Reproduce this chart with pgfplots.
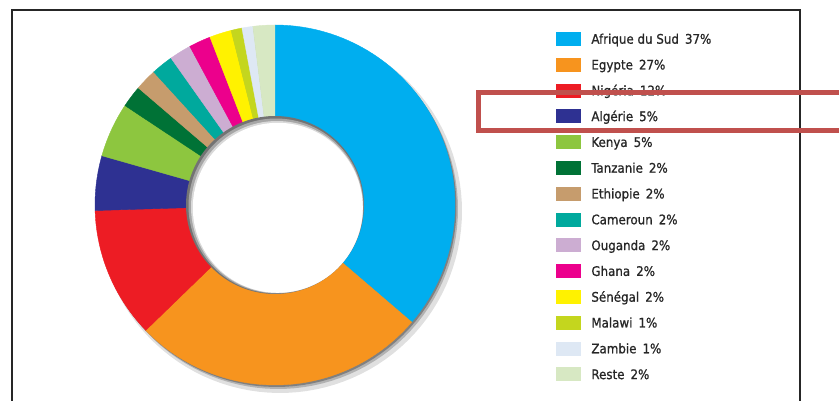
\documentclass[border=0pt]{standalone}
\usepackage{pgfplots}
\pgfplotsset{compat=1.18}
\usepackage{fontspec}
\setmainfont{DejaVu Sans Condensed}
\newfontfamily\legfont{DejaVu Sans Condensed}[FakeBold=0.9]
\definecolor{cZA}{RGB}{0,174,239}
\definecolor{cEG}{RGB}{247,148,30}
\definecolor{cNG}{RGB}{237,28,36}
\definecolor{cDZ}{RGB}{46,49,146}
\definecolor{cKE}{RGB}{141,198,63}
\definecolor{cTZ}{RGB}{0,114,54}
\definecolor{cET}{RGB}{198,156,109}
\definecolor{cCM}{RGB}{0,169,157}
\definecolor{cUG}{RGB}{204,173,210}
\definecolor{cGH}{RGB}{236,0,140}
\definecolor{cSN}{RGB}{255,242,0}
\definecolor{cMW}{RGB}{196,214,30}
\definecolor{cZM}{RGB}{222,232,244}
\definecolor{cRE}{RGB}{215,232,195}
\definecolor{cRed}{RGB}{192,80,77}
\newcommand{\gap}{\hskip 6pt}
\begin{document}
\begin{tikzpicture}
\begin{axis}[
  width=839pt, height=401pt, scale only axis,
  xmin=0, xmax=839, ymin=0, ymax=401,
  hide axis, set layers,
  legend cell align=left,
  legend image code/.code={\fill[#1] (0pt,-6.5pt) rectangle (24pt,6.5pt);},
  legend style={at={(axis cs:556,369)}, anchor=north west, draw=none, fill=none,
    inner sep=0pt, outer sep=0pt, row sep=12.4pt, column sep=11pt,
    font=\legfont\fontsize{13.2}{15}\selectfont, text=black!85,
    nodes={inner sep=0pt, text height=11.5pt, text depth=1.5pt}},
]
% outer drop shadow
\addplot[forget plot, fill=black!12, draw=none, domain=0:360, samples=120] ({280+182*cos(x)},{190+182*sin(x)});
\addplot[forget plot, fill=black!30, draw=none, domain=0:360, samples=120] ({278+180*cos(x)},{192+180*sin(x)});
\addplot[forget plot, fill=black!50, draw=none, domain=0:360, samples=120] ({276.5+180*cos(x)},{194+180*sin(x)});
% slices (cumulative values, total 102)
\addplot[fill=cZA, draw=cZA, line width=0.4pt, domain=0:37, samples=60] ({275+180*sin(x*360/102)},{196+180*cos(x*360/102)}) -- (275,196) -- cycle;
\addlegendentry{Afrique du Sud\gap 37\%}
\addplot[fill=cEG, draw=cEG, line width=0.4pt, domain=37:64, samples=50] ({275+180*sin(x*360/102)},{196+180*cos(x*360/102)}) -- (275,196) -- cycle;
\addlegendentry{Egypte\gap 27\%}
\addplot[fill=cNG, draw=cNG, line width=0.4pt, domain=64:76, samples=30] ({275+180*sin(x*360/102)},{196+180*cos(x*360/102)}) -- (275,196) -- cycle;
\addlegendentry{Nigéria\gap 12\%}
\addplot[fill=cDZ, draw=cDZ, line width=0.4pt, domain=76:81, samples=15] ({275+180*sin(x*360/102)},{196+180*cos(x*360/102)}) -- (275,196) -- cycle;
\addlegendentry{Algérie\gap 5\%}
\addplot[fill=cKE, draw=cKE, line width=0.4pt, domain=81:86, samples=15] ({275+180*sin(x*360/102)},{196+180*cos(x*360/102)}) -- (275,196) -- cycle;
\addlegendentry{Kenya\gap 5\%}
\addplot[fill=cTZ, draw=cTZ, line width=0.4pt, domain=86:88, samples=8] ({275+180*sin(x*360/102)},{196+180*cos(x*360/102)}) -- (275,196) -- cycle;
\addlegendentry{Tanzanie\gap 2\%}
\addplot[fill=cET, draw=cET, line width=0.4pt, domain=88:90, samples=8] ({275+180*sin(x*360/102)},{196+180*cos(x*360/102)}) -- (275,196) -- cycle;
\addlegendentry{Ethiopie\gap 2\%}
\addplot[fill=cCM, draw=cCM, line width=0.4pt, domain=90:92, samples=8] ({275+180*sin(x*360/102)},{196+180*cos(x*360/102)}) -- (275,196) -- cycle;
\addlegendentry{Cameroun\gap 2\%}
\addplot[fill=cUG, draw=cUG, line width=0.4pt, domain=92:94, samples=8] ({275+180*sin(x*360/102)},{196+180*cos(x*360/102)}) -- (275,196) -- cycle;
\addlegendentry{Ouganda\gap 2\%}
\addplot[fill=cGH, draw=cGH, line width=0.4pt, domain=94:96, samples=8] ({275+180*sin(x*360/102)},{196+180*cos(x*360/102)}) -- (275,196) -- cycle;
\addlegendentry{Ghana\gap 2\%}
\addplot[fill=cSN, draw=cSN, line width=0.4pt, domain=96:98, samples=8] ({275+180*sin(x*360/102)},{196+180*cos(x*360/102)}) -- (275,196) -- cycle;
\addlegendentry{Sénégal\gap 2\%}
\addplot[fill=cMW, draw=cMW, line width=0.4pt, domain=98:99, samples=6] ({275+180*sin(x*360/102)},{196+180*cos(x*360/102)}) -- (275,196) -- cycle;
\addlegendentry{Malawi\gap 1\%}
\addplot[fill=cZM, draw=cZM, line width=0.4pt, domain=99:100, samples=6] ({275+180*sin(x*360/102)},{196+180*cos(x*360/102)}) -- (275,196) -- cycle;
\addlegendentry{Zambie\gap 1\%}
\addplot[fill=cRE, draw=cRE, line width=0.4pt, domain=100:102, samples=8] ({275+180*sin(x*360/102)},{196+180*cos(x*360/102)}) -- (275,196) -- cycle;
\addlegendentry{Reste\gap 2\%}
% hole with inner shadow
\addplot[forget plot, fill=black!55, draw=none, domain=0:360, samples=120] ({275+89*cos(x)},{196+89*sin(x)});
\addplot[forget plot, fill=black!35, draw=none, domain=0:360, samples=120] ({276+87.5*cos(x)},{195+87.5*sin(x)});
\addplot[forget plot, fill=black!15, draw=none, domain=0:360, samples=120] ({277+86*cos(x)},{194+86*sin(x)});
\addplot[forget plot, fill=white, draw=none, domain=0:360, samples=120] ({277.8+85*cos(x)},{193.2+85*sin(x)});
% frame
\addplot[forget plot, black!85, line width=2.5pt] coordinates {(12,-5) (12,391) (800,391) (800,-5)};
% highlight rectangle
\addplot[forget plot, cRed, line width=5pt, on layer=axis foreground] coordinates {(845,308.5) (478,308.5) (478,270.5) (845,270.5)};
\end{axis}
\pgfresetboundingbox
\useasboundingbox (0pt,0pt) rectangle (839pt,401pt);
\end{tikzpicture}
\end{document}
